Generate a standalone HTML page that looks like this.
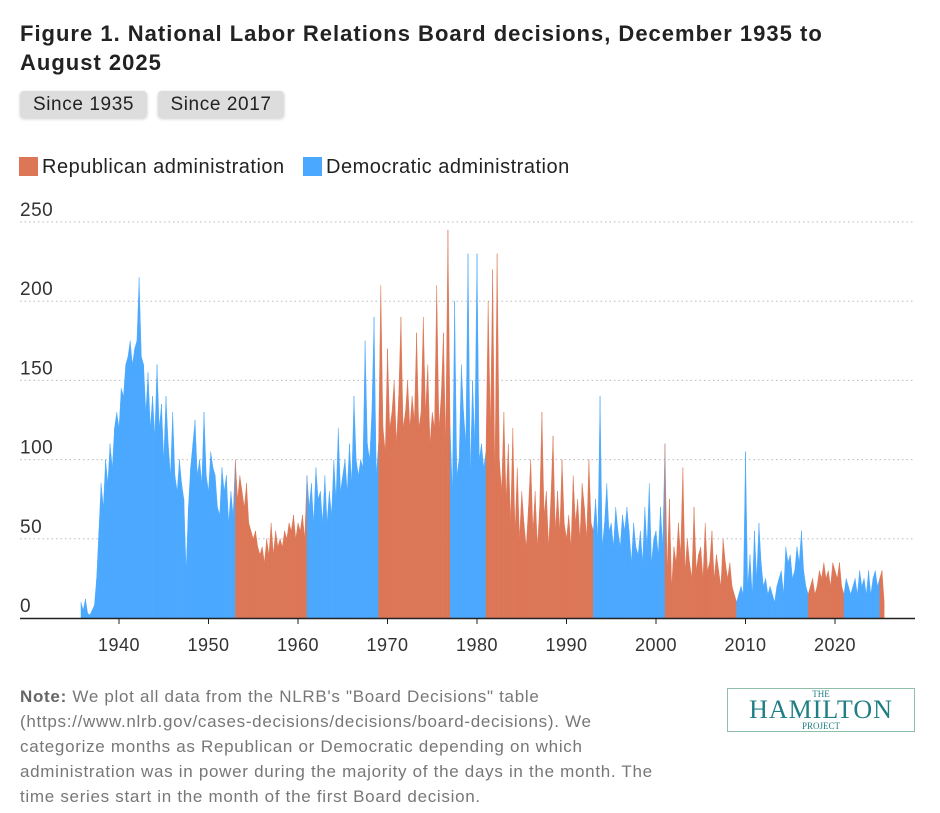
<!DOCTYPE html>
<html><head><meta charset="utf-8">
<style>
body{margin:0;background:#fff;font-family:"Liberation Sans",sans-serif;}
#wrap{position:relative;width:940px;height:813px;overflow:hidden;}
.title{position:absolute;left:20px;top:19px;width:830px;font-size:22px;letter-spacing:1.0px;font-weight:bold;line-height:29px;color:#222;}
.btn{position:absolute;top:91px;height:27px;background:#ddd;border-radius:4px;font-size:19px;letter-spacing:0.6px;line-height:27px;padding:0 0;text-align:center;color:#222;box-shadow:0 1px 3px rgba(0,0,0,.2);}
.leg{position:absolute;top:156px;font-size:20px;letter-spacing:0.5px;color:#222;}
.sw{display:inline-block;width:19px;height:19px;vertical-align:-3px;margin-right:4px;}
.note{position:absolute;left:20px;top:684px;width:660px;font-size:17px;letter-spacing:0.7px;line-height:25px;color:#777;}
.logo{position:absolute;left:727px;top:688px;width:186px;height:42px;border:1px solid #8fbfa8;text-align:center;color:#1f7f84;font-family:"Liberation Serif",serif;}
</style></head><body>
<div id="wrap">
<div class="title">Figure 1. National Labor Relations Board decisions, December 1935 to August 2025</div>
<div class="btn" style="left:20px;width:127px">Since 1935</div>
<div class="btn" style="left:158px;width:126px">Since 2017</div>
<div class="leg" style="left:19px"><span class="sw" style="background:#dc7656"></span>Republican administration</div>
<div class="leg" style="left:303px"><span class="sw" style="background:#4aa8fe"></span>Democratic administration</div>
<svg id="chart" width="940" height="680" style="position:absolute;left:0;top:0"></svg>
<div class="note"><b style="color:#666">Note:</b> We plot all data from the NLRB's "Board Decisions" table (https://www.nlrb.gov/cases-decisions/decisions/board-decisions). We categorize months as Republican or Democratic depending on which administration was in power during the majority of the days in the month. The time series start in the month of the first Board decision.</div>
<div class="logo"><div style="font-size:9px;line-height:10px">THE</div><div style="font-size:26px;line-height:22px;letter-spacing:1px">HAMILTON</div><div style="font-size:9px;line-height:10px">PROJECT</div></div>
</div>
<script>
const startYear = 1935.75;
const values = [10,
5,12,3,2, 5,8,25,55, 85,70,100,85, 110,95,120,130, 120,145,140,160, 165,175,160,170, 175,215,165,160, 130,155,120,140,
115,160,120,135, 100,140,110,90, 130,90,80,100, 85,75,30,70, 95,110,125,90, 100,85,130,90, 80,105,95,90, 70,65,95,80,
90,60,80,65, 100,75,90,80, 70,85,60,55, 50,55,45,40, 45,35,50,40, 60,40,55,45, 50,45,55,50, 60,55,65,50,
60,55,65,50, 90,70,85,60, 95,75,80,60, 90,60,80,65, 100,75,120,80, 90,100,80,110, 85,140,100,90, 100,95,175,110,
100,130,190,90, 110,210,120,105, 170,120,130,150, 110,140,190,120, 130,150,120,140, 125,180,120,130, 190,130,160,110, 130,120,210,120,
140,180,110,245, 120,80,200,90, 100,160,130,110, 230,90,150,110, 230,100,110,95, 105,200,120,220, 90,230,100,80, 130,75,110,60,
120,55,95,50, 80,60,45,70, 100,55,80,45, 70,130,65,80, 45,75,115,55, 80,55,100,60, 50,65,45,90, 60,75,50,85,
70,50,100,60, 55,75,50,140, 45,60,85,55, 60,45,70,55, 45,65,55,70, 55,35,60,45, 40,55,35,70, 45,85,35,50,
55,40,70,45, 110,30,75,20, 45,35,60,40, 95,30,50,35, 25,70,30,40, 45,25,60,30, 35,55,25,40, 30,20,50,35,
25,35,20,15, 10,15,20,15, 105,20,40,15, 55,25,60,35, 20,25,15,20, 15,10,20,25, 30,15,45,35, 40,25,30,45,
35,55,30,20, 15,20,25,15, 20,30,25,35, 25,30,20,35, 30,25,35,20, 15,25,20,15, 20,25,15,30, 20,25,15,30,
15,25,30,20, 25,30,10];
const repStarts = [1953,1969,1981,2001,2017,2025];
const repEnds   = [1961,1977,1993,2009,2021,2026];
const yTicks = [0,50,100,150,200,250];
const xTicks = [1940,1950,1960,1970,1980,1990,2000,2010,2020];

const NS="http://www.w3.org/2000/svg", svg=document.getElementById('chart');
const X = t => 119 + (t-1940)*8.95;
const Y = v => 618 - v*1.584;
function mk(tag, attrs){const e=document.createElementNS(NS,tag);for(const k in attrs)e.setAttribute(k,attrs[k]);svg.appendChild(e);return e;}
yTicks.forEach(v=>{
  if(v>0){const g=mk('line',{x1:20,x2:915,y1:Y(v),y2:Y(v),stroke:'#bbb','stroke-dasharray':'1.5,3'});
  
  }
  const t=mk('text',{x:20,y:Y(v)-6,'font-size':19,'letter-spacing':0.5,fill:'#333','font-family':'Liberation Sans, sans-serif'});
  t.textContent=v;
  
  
});
function isRep(t){for(let i=0;i<repStarts.length;i++)if(t>=repStarts[i]&&t<repEnds[i])return true;return false;}
for(let i=0;i<values.length-1;i++){
  const t0=startYear+i/4,t1=startYear+(i+1)/4;
  const c=isRep(t0+0.01)?'#dc7656':'#4aa8fe';
  const p=mk('polygon',{points:`${X(t0)},${Y(0)} ${X(t0)},${Y(values[i])} ${X(t1)},${Y(values[i+1])} ${X(t1)},${Y(0)}`,fill:c,stroke:c,'stroke-width':0.4});
  
  
}
const ax=mk('line',{x1:20,x2:915,y1:618.5,y2:618.5,stroke:'#222','stroke-width':1.5});


xTicks.forEach(yr=>{
  const l=mk('line',{x1:X(yr),x2:X(yr),y1:618,y2:624,stroke:'#222'});
  
  
  const t=mk('text',{x:X(yr),y:651,'font-size':18,'letter-spacing':0.5,fill:'#333','text-anchor':'middle','font-family':'Liberation Sans, sans-serif'});
  t.textContent=yr;
  
  
});
</script>
</body></html>
